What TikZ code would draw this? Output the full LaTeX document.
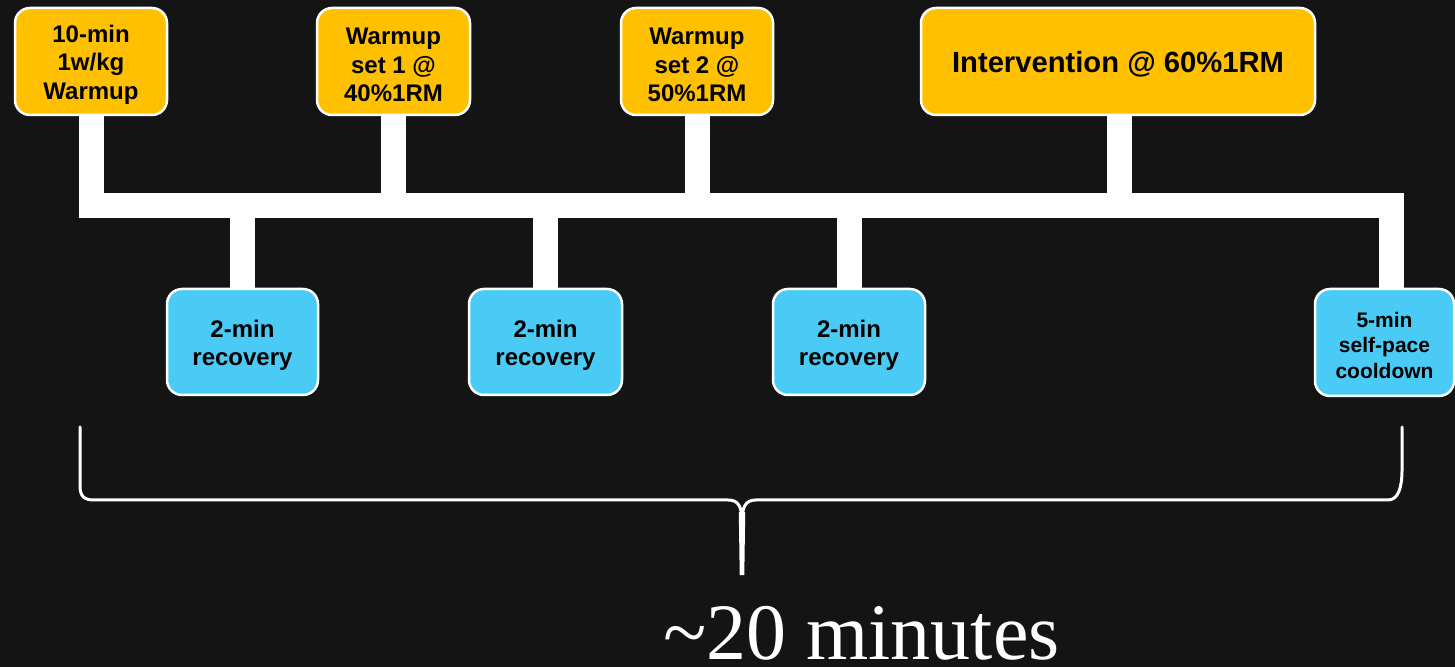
\documentclass[tikz,border=0pt]{standalone}
\usepackage{fontspec}
\setmainfont{Liberation Sans}
\newfontfamily\brfont{Liberation Serif}
\usetikzlibrary{calc}
\definecolor{board}{RGB}{20,20,20}
\definecolor{gold}{RGB}{255,192,0}
\definecolor{sky}{RGB}{74,203,246}
\pgfdeclarelayer{bg}
\pgfsetlayers{bg,main}
\newcommand\dn[1]{\rule{0pt}{#1}}
\begin{document}
\begin{tikzpicture}[x=0.5pt,y=-0.5pt,
  box/.style={draw=white, line width=1.25pt, rounded corners=7.5pt, inner sep=0pt, align=center, text=black, font=\bfseries\fontsize{12}{14.25}\selectfont},
  topbox/.style={box, fill=gold, minimum height=53.5pt},
  recbox/.style={box, fill=sky, minimum height=53pt},
  link/.style={draw=white, line width=12.5pt, line join=miter},
  brace/.style={draw=white, line width=1.5pt, line cap=round}]
\useasboundingbox (0,0) rectangle (1455,667);
% boxes
\node[topbox, minimum width=76pt] (b1) at (91,61.5) {\dn{11.8pt}10-min\\1w/kg\\Warmup};
\node[topbox, minimum width=76.5pt] (b2) at (393.5,61.5) {\dn{11.8pt}Warmup\\set 1 @\\40\%1RM};
\node[topbox, minimum width=76pt] (b3) at (697,61.5) {\dn{11.8pt}Warmup\\set 2 @\\50\%1RM};
\node[topbox, minimum width=197pt, font=\bfseries\fontsize{14.6}{17}\selectfont] (b4) at (1118,61.5) {\dn{13.7pt}Intervention @ 60\%1RM};
\node[recbox, minimum width=75.5pt] (r1) at (242.5,342) {\dn{11.8pt}2-min\\recovery};
\node[recbox, minimum width=76.5pt] (r2) at (545.5,342) {\dn{11.8pt}2-min\\recovery};
\node[recbox, minimum width=76pt] (r3) at (849,342) {\dn{11.8pt}2-min\\recovery};
\node[recbox, minimum width=69.5pt, minimum height=53.5pt, font=\bfseries\fontsize{10.5}{12.75}\selectfont] (cool) at (1384.5,342.5) {\dn{10.2pt}5-min\\self-pace\\cooldown};
\coordinate (rc) at (1391,206);
\begin{pgfonlayer}{bg}
  \fill[board] (0,0) rectangle (1455,667);
  \draw[link] (b1.south) |- (rc) -- (rc |- cool.north);
  \draw[link] (b2.south) -- (b2.south |- rc);
  \draw[link] (b3.south) -- (b3.south |- rc);
  \draw[link] ($(b4.south)+(1,0)$) -- ($(b4.south |- rc)+(1,0)$);
  \draw[link] (r1.north) -- (r1.north |- rc);
  \draw[link] (r2.north) -- (r2.north |- rc);
  \draw[link] (r3.north) -- (r3.north |- rc);
\end{pgfonlayer}
% brace
\draw[brace] (80,427) -- (80,486) .. controls (80,496) and (84,500) .. (94,500) -- (728,500) .. controls (738,500) and (742,506) .. (742,522);
\draw[brace] (1402,427) -- (1402,470) .. controls (1402,488) and (1398,500) .. (1388,500) -- (756,500) .. controls (746,500) and (742,506) .. (742,522);
\fill[white] (738.8,512) -- (745.2,512) -- (744.3,575) -- (739.7,575) -- cycle;
% label
\node[anchor=base, inner sep=0pt, text=white, font=\brfont\fontsize{40}{48}\selectfont] (dur) at (861.5,659) {\textasciitilde 20 minutes};
\end{tikzpicture}
\end{document}
